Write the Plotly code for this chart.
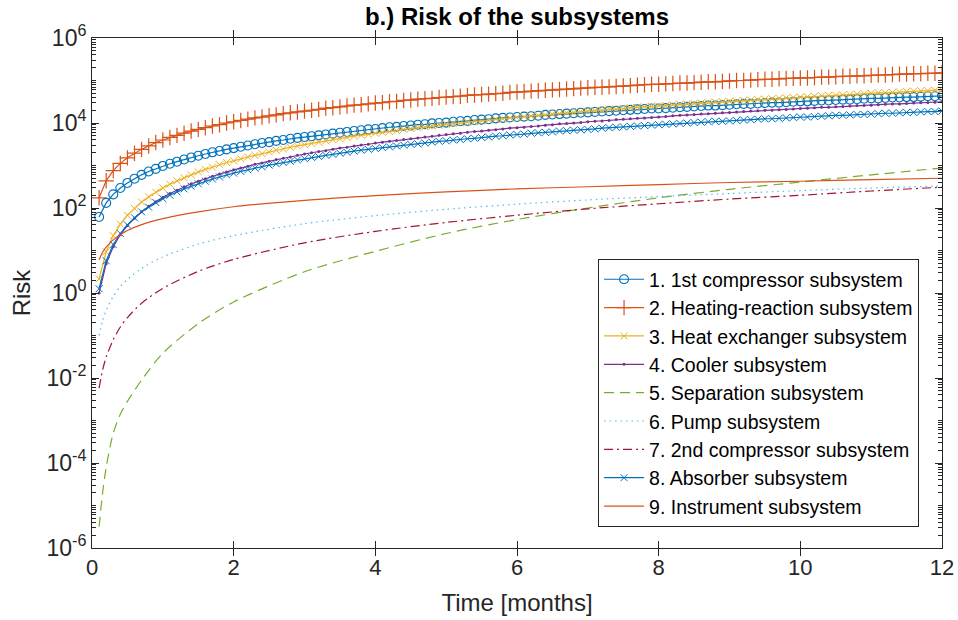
import plotly.graph_objects as go

# ---------------- data ----------------
# sampling times of the marker series [months]
time_fine = [0.1, 0.2, 0.3, 0.4, 0.5, 0.6, 0.7, 0.8, 0.9, 1.0,
             1.1, 1.2, 1.3, 1.4, 1.5, 1.6, 1.7, 1.8, 1.9, 2.0,
             2.1, 2.2, 2.3, 2.4, 2.5, 2.6, 2.7, 2.8, 2.9, 3.0,
             3.1, 3.2, 3.3, 3.4, 3.5, 3.6, 3.7, 3.8, 3.9, 4.0,
             4.1, 4.2, 4.3, 4.4, 4.5, 4.6, 4.7, 4.8, 4.9, 5.0,
             5.1, 5.2, 5.3, 5.4, 5.5, 5.6, 5.7, 5.8, 5.9, 6.0,
             6.1, 6.2, 6.3, 6.4, 6.5, 6.6, 6.7, 6.8, 6.9, 7.0,
             7.1, 7.2, 7.3, 7.4, 7.5, 7.6, 7.7, 7.8, 7.9, 8.0,
             8.1, 8.2, 8.3, 8.4, 8.5, 8.6, 8.7, 8.8, 8.9, 9.0,
             9.1, 9.2, 9.3, 9.4, 9.5, 9.6, 9.7, 9.8, 9.9, 10.0,
             10.1, 10.2, 10.3, 10.4, 10.5, 10.6, 10.7, 10.8, 10.9, 11.0,
             11.1, 11.2, 11.3, 11.4, 11.5, 11.6, 11.7, 11.8, 11.9, 12.0]

# sampling times of the line-only series [months]
time_coarse = [0.1, 0.15, 0.2, 0.3, 0.4, 0.5, 0.7, 1.0, 1.5, 2.0,
               3.0, 4.0, 5.0, 6.0, 7.0, 8.0, 9.0, 10.0, 11.0, 12.0]

# log10(risk) values
log_risk_1st_compressor = [
    1.79, 2.12, 2.32, 2.47, 2.59, 2.69, 2.78, 2.86, 2.92, 2.99,
    3.04, 3.09, 3.14, 3.19, 3.23, 3.27, 3.31, 3.34, 3.38, 3.41,
    3.44, 3.47, 3.50, 3.53, 3.55, 3.58, 3.60, 3.63, 3.65, 3.67,
    3.69, 3.71, 3.73, 3.75, 3.77, 3.79, 3.81, 3.83, 3.85, 3.86,
    3.88, 3.90, 3.91, 3.93, 3.94, 3.96, 3.97, 3.99, 4.00, 4.01,
    4.03, 4.04, 4.05, 4.07, 4.08, 4.09, 4.11, 4.12, 4.13, 4.14,
    4.15, 4.16, 4.17, 4.19, 4.20, 4.21, 4.22, 4.23, 4.24, 4.25,
    4.26, 4.27, 4.28, 4.29, 4.30, 4.31, 4.32, 4.33, 4.34, 4.34,
    4.35, 4.36, 4.37, 4.38, 4.39, 4.40, 4.41, 4.41, 4.42, 4.43,
    4.44, 4.45, 4.45, 4.46, 4.47, 4.48, 4.48, 4.49, 4.50, 4.51,
    4.51, 4.52, 4.53, 4.53, 4.54, 4.55, 4.55, 4.56, 4.57, 4.58,
    4.58, 4.59, 4.60, 4.60, 4.61, 4.61, 4.62, 4.63, 4.63, 4.64]

log_risk_heating_reaction = [
    2.24, 2.64, 2.88, 3.05, 3.18, 3.29, 3.38, 3.46, 3.54, 3.60,
    3.66, 3.71, 3.76, 3.81, 3.85, 3.89, 3.93, 3.96, 4.00, 4.03,
    4.06, 4.09, 4.12, 4.14, 4.17, 4.19, 4.22, 4.24, 4.26, 4.28,
    4.30, 4.32, 4.35, 4.36, 4.38, 4.40, 4.42, 4.43, 4.45, 4.47,
    4.48, 4.50, 4.51, 4.53, 4.54, 4.56, 4.57, 4.58, 4.60, 4.61,
    4.62, 4.63, 4.65, 4.66, 4.67, 4.68, 4.69, 4.70, 4.72, 4.73,
    4.74, 4.75, 4.76, 4.77, 4.78, 4.79, 4.80, 4.81, 4.82, 4.83,
    4.84, 4.84, 4.85, 4.86, 4.87, 4.88, 4.89, 4.90, 4.91, 4.91,
    4.92, 4.93, 4.94, 4.94, 4.95, 4.96, 4.97, 4.97, 4.98, 4.99,
    5.00, 5.00, 5.01, 5.02, 5.03, 5.03, 5.04, 5.05, 5.05, 5.06,
    5.06, 5.07, 5.08, 5.08, 5.09, 5.10, 5.10, 5.11, 5.11, 5.12,
    5.13, 5.13, 5.14, 5.15, 5.15, 5.16, 5.16, 5.17, 5.17, 5.18]

log_risk_heat_exchanger = [
    0.33, 0.97, 1.35, 1.62, 1.83, 1.99, 2.14, 2.26, 2.37, 2.47,
    2.56, 2.64, 2.71, 2.78, 2.85, 2.91, 2.96, 3.02, 3.07, 3.11,
    3.16, 3.20, 3.24, 3.28, 3.32, 3.36, 3.39, 3.43, 3.46, 3.49,
    3.52, 3.55, 3.58, 3.61, 3.63, 3.66, 3.69, 3.71, 3.73, 3.76,
    3.78, 3.80, 3.82, 3.85, 3.87, 3.89, 3.91, 3.93, 3.95, 3.97,
    3.99, 4.00, 4.02, 4.04, 4.05, 4.07, 4.09, 4.10, 4.12, 4.13,
    4.15, 4.16, 4.18, 4.19, 4.21, 4.22, 4.24, 4.25, 4.27, 4.28,
    4.29, 4.30, 4.32, 4.33, 4.34, 4.36, 4.37, 4.38, 4.39, 4.40,
    4.41, 4.43, 4.44, 4.45, 4.46, 4.47, 4.48, 4.49, 4.50, 4.51,
    4.52, 4.53, 4.54, 4.55, 4.56, 4.57, 4.58, 4.59, 4.60, 4.61,
    4.62, 4.63, 4.64, 4.65, 4.65, 4.66, 4.67, 4.68, 4.69, 4.70,
    4.71, 4.71, 4.72, 4.73, 4.74, 4.75, 4.76, 4.76, 4.77, 4.78]

log_risk_cooler = [
    0.00, 0.69, 1.09, 1.37, 1.59, 1.76, 1.91, 2.04, 2.15, 2.25,
    2.34, 2.42, 2.50, 2.57, 2.63, 2.69, 2.75, 2.80, 2.85, 2.90,
    2.94, 2.98, 3.03, 3.06, 3.10, 3.14, 3.17, 3.20, 3.24, 3.27,
    3.30, 3.33, 3.35, 3.38, 3.41, 3.43, 3.46, 3.48, 3.50, 3.53,
    3.55, 3.57, 3.59, 3.61, 3.63, 3.65, 3.67, 3.69, 3.71, 3.73,
    3.75, 3.76, 3.78, 3.80, 3.81, 3.83, 3.84, 3.86, 3.88, 3.89,
    3.90, 3.92, 3.93, 3.95, 3.96, 3.98, 3.99, 4.00, 4.01, 4.03,
    4.04, 4.05, 4.06, 4.08, 4.09, 4.10, 4.11, 4.12, 4.13, 4.14,
    4.15, 4.17, 4.18, 4.19, 4.20, 4.21, 4.22, 4.23, 4.24, 4.25,
    4.26, 4.27, 4.28, 4.29, 4.30, 4.30, 4.31, 4.32, 4.33, 4.34,
    4.35, 4.36, 4.37, 4.37, 4.38, 4.39, 4.40, 4.41, 4.41, 4.42,
    4.43, 4.44, 4.45, 4.45, 4.46, 4.47, 4.48, 4.48, 4.49, 4.50]

log_risk_absorber = [
    0.10, 0.76, 1.14, 1.40, 1.60, 1.77, 1.91, 2.02, 2.13, 2.22,
    2.30, 2.38, 2.45, 2.51, 2.57, 2.63, 2.68, 2.73, 2.78, 2.82,
    2.86, 2.90, 2.94, 2.97, 3.01, 3.04, 3.07, 3.10, 3.13, 3.16,
    3.19, 3.21, 3.24, 3.26, 3.29, 3.31, 3.34, 3.36, 3.38, 3.40,
    3.42, 3.44, 3.46, 3.48, 3.50, 3.51, 3.53, 3.55, 3.57, 3.58,
    3.60, 3.61, 3.63, 3.64, 3.66, 3.67, 3.69, 3.70, 3.72, 3.73,
    3.74, 3.76, 3.77, 3.78, 3.79, 3.81, 3.82, 3.83, 3.84, 3.85,
    3.86, 3.88, 3.89, 3.90, 3.91, 3.92, 3.93, 3.94, 3.95, 3.96,
    3.97, 3.98, 3.99, 4.00, 4.01, 4.02, 4.03, 4.04, 4.04, 4.05,
    4.06, 4.07, 4.08, 4.09, 4.10, 4.10, 4.11, 4.12, 4.13, 4.14,
    4.14, 4.15, 4.16, 4.17, 4.18, 4.18, 4.19, 4.20, 4.20, 4.21,
    4.22, 4.23, 4.23, 4.24, 4.25, 4.25, 4.26, 4.27, 4.27, 4.28]

log_risk_separation = [-5.50, -4.70, -4.10, -3.30, -2.85, -2.55, -2.05, -1.42, -0.72, -0.21,
                       0.50, 0.98, 1.40, 1.73, 2.00, 2.24, 2.44, 2.61, 2.78, 2.94]
log_risk_pump = [-1.00, -0.65, -0.41, -0.08, 0.15, 0.32, 0.58, 0.85, 1.15, 1.35,
                 1.63, 1.82, 1.97, 2.09, 2.19, 2.27, 2.34, 2.41, 2.47, 2.52]
log_risk_2nd_compressor = [-2.24, -1.81, -1.51, -1.10, -0.80, -0.58, -0.24, 0.11, 0.51, 0.79,
                           1.18, 1.45, 1.66, 1.83, 1.98, 2.10, 2.21, 2.30, 2.40, 2.49]
log_risk_instrument = [0.78, 0.96, 1.08, 1.25, 1.37, 1.47, 1.61, 1.75, 1.91, 2.03,
                       2.18, 2.29, 2.38, 2.45, 2.50, 2.55, 2.60, 2.63, 2.67, 2.70]

series_names = ["1. 1st compressor subsystem", "2. Heating-reaction subsystem",
                "3. Heat exchanger subsystem", "4. Cooler subsystem",
                "5. Separation subsystem", "6. Pump subsystem",
                "7. 2nd compressor subsystem", "8. Absorber subsystem",
                "9. Instrument subsystem"]

x_tick_values = [0, 2, 4, 6, 8, 10, 12]
y_tick_values = [1e-6, 1e-4, 1e-2, 1e0, 1e2, 1e4, 1e6]
y_tick_labels = ["10<sup>-6</sup>", "10<sup>-4</sup>", "10<sup>-2</sup>", "10<sup>0</sup>",
                 "10<sup>2</sup>", "10<sup>4</sup>", "10<sup>6</sup>"]

# ---------------- figure ----------------
def to_risk(vals):
    return [10 ** v for v in vals]

FONT = "Liberation Sans, Arial, Helvetica, sans-serif"
INK = "#262626"

c_blue = "#0072BD"
c_orange = "#D95319"
c_yellow = "#EDB120"
c_purple = "#7E2F8E"
c_green = "#77AC30"
c_cyan = "#4DBEEE"
c_red = "#A2142F"

fig = go.Figure()

fig.add_trace(go.Scatter(
    x=time_fine, y=to_risk(log_risk_1st_compressor), name=series_names[0],
    mode="lines+markers", line=dict(color=c_blue, width=1.2),
    marker=dict(symbol="circle-open", size=9, color=c_blue, line=dict(width=1.1))))

fig.add_trace(go.Scatter(
    x=time_fine, y=to_risk(log_risk_heating_reaction), name=series_names[1],
    mode="lines+markers", line=dict(color=c_orange, width=1.2),
    marker=dict(symbol="cross-thin-open", size=11, color=c_orange, line=dict(width=1.2, color=c_orange))))

fig.add_trace(go.Scatter(
    x=time_fine, y=to_risk(log_risk_heat_exchanger), name=series_names[2],
    mode="lines+markers", line=dict(color=c_yellow, width=1.2),
    marker=dict(symbol="x-thin-open", size=7, color=c_yellow, line=dict(width=1, color=c_yellow))))

fig.add_trace(go.Scatter(
    x=time_fine, y=to_risk(log_risk_cooler), name=series_names[3],
    mode="lines+markers", line=dict(color=c_purple, width=1.2),
    marker=dict(symbol="circle", size=3, color=c_purple)))

fig.add_trace(go.Scatter(
    x=time_coarse, y=to_risk(log_risk_separation), name=series_names[4],
    mode="lines", line=dict(color=c_green, width=1.2, dash="10px,6px", shape="spline", smoothing=0.8)))

fig.add_trace(go.Scatter(
    x=time_coarse, y=to_risk(log_risk_pump), name=series_names[5],
    mode="lines", line=dict(color=c_cyan, width=1.2, dash="1.5px,4px", shape="spline", smoothing=0.8)))

fig.add_trace(go.Scatter(
    x=time_coarse, y=to_risk(log_risk_2nd_compressor), name=series_names[6],
    mode="lines", line=dict(color=c_red, width=1.2, dash="9px,4px,2px,4px", shape="spline", smoothing=0.8)))

fig.add_trace(go.Scatter(
    x=time_fine, y=to_risk(log_risk_absorber), name=series_names[7],
    mode="lines+markers", line=dict(color=c_blue, width=1.2),
    marker=dict(symbol="x-thin-open", size=7, color=c_blue, line=dict(width=1, color=c_blue))))

fig.add_trace(go.Scatter(
    x=time_coarse, y=to_risk(log_risk_instrument), name=series_names[8],
    mode="lines", line=dict(color=c_orange, width=1.2, shape="spline", smoothing=0.8)))

# an invisible trace on the overlaid axis so that its minor ticks are drawn
fig.add_trace(go.Scatter(x=[0], y=[1], yaxis="y2", mode="markers",
                         marker=dict(opacity=0), showlegend=False, hoverinfo="skip"))

# minor tick positions for the log axis (2..9 of every decade, plus odd decades)
minor_y = []
for e in range(-6, 6):
    for k in range(2, 10):
        minor_y.append(k * 10 ** e)
    if e % 2 != 0:
        minor_y.append(10 ** e)

fig.update_layout(
    width=958, height=620,
    margin=dict(l=92, r=16, t=38, b=72),
    paper_bgcolor="white", plot_bgcolor="white",
    font=dict(family=FONT, color=INK),
    title=dict(text="<b>b.) Risk of the subsystems</b>", x=0.5, xref="paper", xanchor="center",
               y=1 - 17 / 620, yref="container", yanchor="middle",
               font=dict(size=24, family=FONT, color="black")),
    showlegend=True,
    legend=dict(x=0.973, y=0.041, xanchor="right", yanchor="bottom",
                bgcolor="white", bordercolor=INK, borderwidth=1,
                font=dict(size=19.5, family=FONT, color="black"),
                itemwidth=40, tracegroupgap=0),
    xaxis=dict(
        range=[0, 12], tickvals=x_tick_values, ticks="inside", ticklen=7, tickwidth=1,
        tickcolor=INK, showline=True, linecolor=INK, linewidth=1, mirror="allticks",
        showgrid=False, zeroline=False, tickfont=dict(size=22, family=FONT, color=INK),
        automargin=False,
        title=dict(text="Time [months]", font=dict(size=24, family=FONT, color=INK), standoff=14),
    ),
    yaxis=dict(
        type="log", range=[-6, 6], tickmode="array", tickvals=y_tick_values, ticktext=y_tick_labels,
        ticks="inside", ticklen=7, tickwidth=1, tickcolor=INK,
        showline=True, linecolor=INK, linewidth=1, mirror="allticks",
        showgrid=False, zeroline=False, tickfont=dict(size=23, family=FONT, color=INK),
        automargin=False,
        title=dict(text="Risk", font=dict(size=24, family=FONT, color=INK), standoff=9),
    ),
    # overlaid y axis used only to draw the short minor ticks
    yaxis2=dict(type="log", range=[-6, 6], overlaying="y", side="left", anchor="x",
                tickmode="array", tickvals=minor_y, ticks="inside", ticklen=4, tickwidth=1,
                tickcolor=INK, showticklabels=False, showgrid=False, zeroline=False,
                showline=False, mirror="allticks", automargin=False),
)

# remove the default 8px page margin so the figure fills the window exactly
fig.write_html("out.html", config={"displayModeBar": False},
               post_script="document.body.style.margin='0';")
